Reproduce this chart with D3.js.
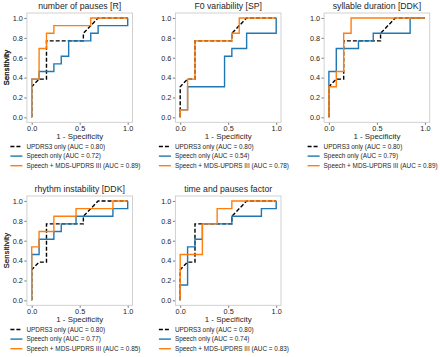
<!DOCTYPE html>
<html>
<head>
<meta charset="utf-8">
<script src="https://cdn.jsdelivr.net/npm/d3@7"></script>
<style>
  body { margin: 0; background: #fff; }
  svg { display: block; font-family: "Liberation Sans", Arial, sans-serif; }
</style>
</head>
<body>
<div class="chart"></div>
<script>
// panel titles, row by row
const titles = ["number of pauses [R]", "F0 variability [SP]", "syllable duration [DDK]",
                "rhythm instability [DDK]", "time and pauses factor"];

const aucUpdrs = 0.80;
const aucSpeech = [0.72, 0.54, 0.79, 0.77, 0.74];
const aucCombined = [0.89, 0.78, 0.89, 0.85, 0.83];

// UPDRS3 only, same curve in every panel
const updrsFpr = [0, 0, 0.077, 0.154, 0.154, 0.538, 0.538, 0.692, 1];
const updrsTpr = [0, 0.308, 0.385, 0.385, 0.769, 0.769, 0.846, 1, 1];

// Speech only
const speechFpr = [
  [0, 0, 0.077, 0.077, 0.231, 0.231, 0.308, 0.308, 0.385, 0.385, 0.615, 0.615, 0.692, 0.692, 1, 1],
  [0, 0, 0.077, 0.077, 0.462, 0.462, 0.538, 0.538, 0.692, 0.692, 1, 1],
  [0, 0, 0.077, 0.077, 0.308, 0.308, 0.462, 0.462, 0.846, 0.846, 1],
  [0, 0, 0.077, 0.077, 0.231, 0.231, 0.308, 0.308, 0.462, 0.462, 0.846, 0.846, 1, 1],
  [0, 0, 0.077, 0.077, 0.154, 0.154, 0.231, 0.231, 0.538, 0.538, 0.846, 0.846, 1, 1]
];
const speechTpr = [
  [0, 0.385, 0.385, 0.462, 0.462, 0.538, 0.538, 0.615, 0.615, 0.769, 0.769, 0.846, 0.846, 0.923, 0.923, 1],
  [0, 0.077, 0.077, 0.308, 0.308, 0.615, 0.615, 0.692, 0.692, 0.846, 0.846, 1],
  [0, 0.462, 0.462, 0.692, 0.692, 0.769, 0.769, 0.846, 0.846, 1, 1],
  [0, 0.462, 0.462, 0.615, 0.615, 0.692, 0.692, 0.769, 0.769, 0.846, 0.846, 0.923, 0.923, 1],
  [0, 0.154, 0.154, 0.538, 0.538, 0.615, 0.615, 0.769, 0.769, 0.846, 0.846, 0.923, 0.923, 1]
];

// Speech + MDS-UPDRS III
const combFpr = [
  [0, 0, 0.077, 0.077, 0.154, 0.154, 0.231, 0.231, 0.615, 0.615, 1],
  [0, 0, 0.077, 0.077, 0.154, 0.154, 0.538, 0.538, 0.615, 0.615, 1],
  [0, 0, 0.077, 0.077, 0.154, 0.154, 0.231, 0.231, 1],
  [0, 0, 0.077, 0.077, 0.231, 0.231, 0.462, 0.462, 0.846, 0.846, 1],
  [0, 0, 0.231, 0.231, 0.385, 0.385, 0.538, 0.538, 1]
];
const combTpr = [
  [0, 0.385, 0.385, 0.692, 0.692, 0.846, 0.846, 0.923, 0.923, 1, 1],
  [0, 0.077, 0.077, 0.385, 0.385, 0.769, 0.769, 0.846, 0.846, 1, 1],
  [0, 0.308, 0.308, 0.462, 0.462, 0.846, 0.846, 1, 1],
  [0, 0.538, 0.538, 0.692, 0.692, 0.846, 0.846, 0.923, 0.923, 1, 1],
  [0, 0.462, 0.462, 0.769, 0.769, 0.923, 0.923, 1, 1]
];

const yTicks = [0, 0.2, 0.4, 0.6, 0.8, 1.0];
const xTicks = [0, 0.5, 1.0];

const width = 440, height = 357;
const axW = 105.6, axH = 109.3;
const colLeft = [26.9, 175.4, 324.1];
const rowTop = [13, 196];
const textColor = "#262626";

const svg = d3.select(".chart").append("svg")
  .attr("width", width).attr("height", height);

const xScale = d3.scaleLinear().domain([-0.05, 1.05]).range([0, axW]);
const yScale = d3.scaleLinear().domain([-0.05, 1.05]).range([axH, 0]);

const line = d3.line().x(d => xScale(d[0])).y(d => yScale(d[1]));
const zip = (a, b) => a.map((v, i) => [v, b[i]]);

const series = (i) => [
  { name: "UPDRS3 only (AUC = " + aucUpdrs.toFixed(2) + ")", pts: zip(updrsFpr, updrsTpr), color: "#000", dash: "4,2" },
  { name: "Speech only (AUC = " + aucSpeech[i].toFixed(2) + ")", pts: zip(speechFpr[i], speechTpr[i]), color: "#1f77b4", dash: null },
  { name: "Speech + MDS-UPDRS III (AUC = " + aucCombined[i].toFixed(2) + ")", pts: zip(combFpr[i], combTpr[i]), color: "#ff7f0e", dash: null }
];

titles.forEach((title, i) => {
  const left = colLeft[i % 3], top = rowTop[Math.floor(i / 3)];
  const g = svg.append("g").attr("transform", "translate(" + left + "," + top + ")");

  const xAxis = g.append("g").attr("transform", "translate(0," + axH + ")")
    .call(d3.axisBottom(xScale).tickValues(xTicks).tickFormat(d3.format(".1f")).tickSize(2.5).tickPadding(1.5));
  const yAxis = g.append("g")
    .call(d3.axisLeft(yScale).tickValues(yTicks).tickFormat(d3.format(".1f")).tickSize(2.5).tickPadding(1.5));
  [xAxis, yAxis].forEach(ax => {
    ax.attr("font-family", null).attr("font-size", null);
    ax.select(".domain").remove();
    ax.selectAll(".tick line").attr("stroke", "#555").attr("stroke-width", 0.8);
    ax.selectAll(".tick text").attr("fill", textColor).style("font-size", "7.3px");
  });

  g.append("rect").attr("width", axW).attr("height", axH)
    .attr("fill", "none").attr("stroke", "#cccccc").attr("stroke-width", 0.9);

  const sers = series(i);
  sers.forEach(s => {
    g.append("path").datum(s.pts)
      .attr("d", line)
      .attr("fill", "none")
      .attr("stroke", s.color)
      .attr("stroke-width", 1.4)
      .attr("stroke-dasharray", s.dash);
  });

  g.append("text").attr("x", axW / 2).attr("y", -4)
    .attr("text-anchor", "middle").attr("fill", textColor)
    .style("font-size", "8.7px").text(title);

  g.append("text").attr("x", axW / 2).attr("y", axH + 16.8)
    .attr("text-anchor", "middle").attr("fill", textColor)
    .style("font-size", "7.9px").text("1 - Specificity");

  g.append("text")
    .attr("transform", "translate(" + (-left + 9.2) + "," + (axH / 2) + ") rotate(-90)")
    .attr("text-anchor", "middle").attr("fill", "#333")
    .style("font-size", "7.9px").text("Sensitivity");

  const legend = g.append("g").attr("transform", "translate(0," + (axH + 24.2) + ")");
  sers.forEach((s, k) => {
    const row = legend.append("g").attr("transform", "translate(0," + (k * 9.6) + ")");
    row.append("line").attr("x1", -16.5).attr("x2", -4.5)
      .attr("stroke", s.color).attr("stroke-width", 1.4)
      .attr("stroke-dasharray", s.dash);
    row.append("text").attr("x", -0.5).attr("dy", "0.35em")
      .attr("fill", textColor).style("font-size", "6.4px").text(s.name);
  });
});
</script>
</body>
</html>
